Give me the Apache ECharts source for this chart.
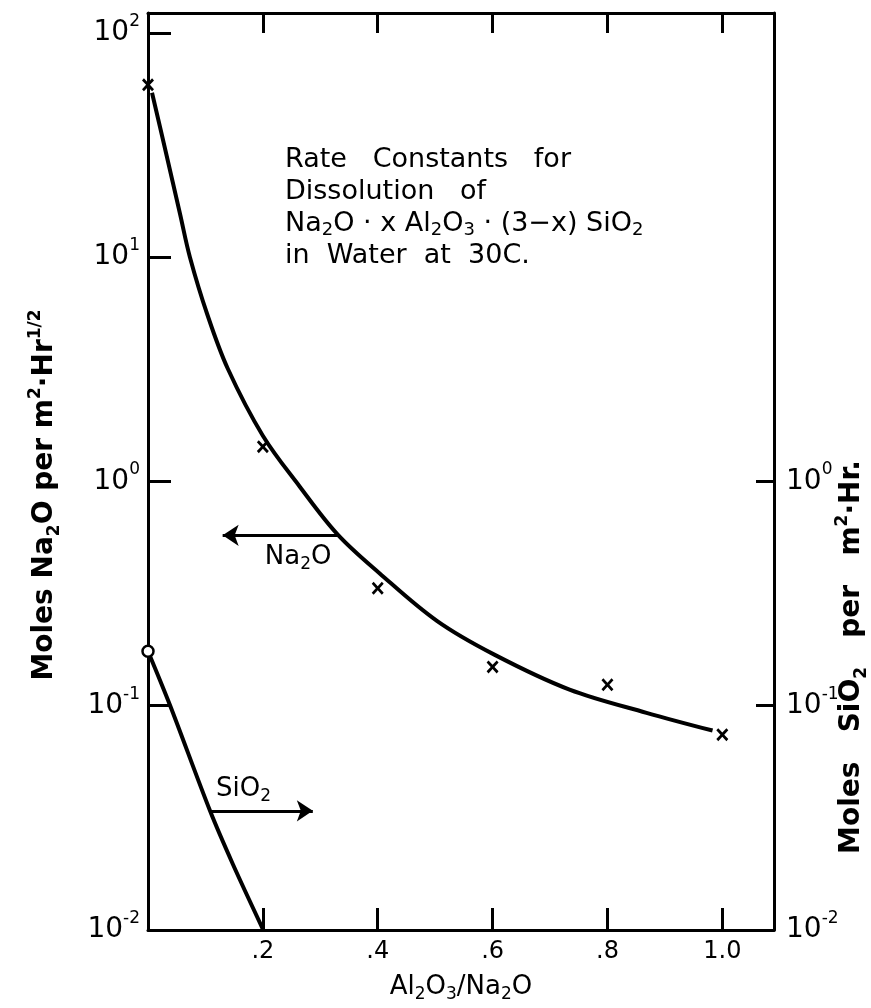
<!DOCTYPE html>
<html>
<head>
<meta charset="utf-8">
<script src="https://cdn.jsdelivr.net/npm/echarts@6/dist/echarts.min.js"></script>
<style>
  html, body { margin: 0; padding: 0; background: #fff; }
  #chart { width: 871px; height: 1008px; }
</style>
</head>
<body>
<div id="chart"></div>
<script>
// Na2O rate constants (x markers) and the hand drawn curve through them
const naPointsX = [0, 0.2, 0.4, 0.6, 0.8, 1.0];
const naPointsY = [58.7, 1.43, 0.334, 0.149, 0.124, 0.0743];
const naCurveX = [0.007, 0.030, 0.056, 0.073, 0.103, 0.139, 0.2, 0.264, 0.33, 0.403, 0.503, 0.603, 0.734, 0.868, 0.983];
const naCurveY = [54.1, 30.2, 15.5, 10.0, 5.58, 3.18, 1.6, 0.95, 0.581, 0.39, 0.239, 0.169, 0.118, 0.093, 0.0775];
// SiO2 (right axis)
const sioPointX = [0];
const sioPointY = [0.175];
const sioCurveX = [0, 0.038, 0.108, 0.148, 0.2];
const sioCurveY = [0.175, 0.101, 0.034, 0.0196, 0.0101];
// arrows pointing at the axis each curve belongs to
const naArrow = [[0.13, 0.575], [0.33, 0.575]];
const sioArrow = [[0.108, 0.034], [0.287, 0.034]];
// ticks
const xTicks = [0.2, 0.4, 0.6, 0.8, 1.0];
const xTickLabels = ['.2', '.4', '.6', '.8', '1.0'];
const leftTicks = [0.01, 0.1, 1, 10, 100];
const rightTicks = [0.01, 0.1, 1];

const FONT = 'DejaVu Sans';
const INK = '#000';

const zip = (xs, ys) => xs.map((x, i) => [x, ys[i]]);

// 10 with exponent as superscript
const powLabel = v => {
  const e = Math.round(Math.log10(v));
  return '{b|10}{sup|' + (e < 0 ? '-' + (-e) : e) + '}';
};
const powRich = {
  b: { fontFamily: FONT, fontSize: 28, lineHeight: 40, color: INK },
  sup: { fontFamily: FONT, fontSize: 17, lineHeight: 17, verticalAlign: 'top', color: INK }
};
const subRich = size => ({
  t: { fontFamily: FONT, fontSize: size, lineHeight: 32, color: INK },
  s: { fontFamily: FONT, fontSize: Math.round(size * 0.65), lineHeight: 20, verticalAlign: 'bottom', color: INK }
});
const titleRich = {
  b: { fontFamily: FONT, fontSize: 28, fontWeight: 'bold', lineHeight: 36, color: INK },
  bs: { fontFamily: FONT, fontSize: 17, fontWeight: 'bold', lineHeight: 22, verticalAlign: 'bottom', color: INK },
  bp: { fontFamily: FONT, fontSize: 17, fontWeight: 'bold', lineHeight: 17, verticalAlign: 'top', color: INK }
};

const axisLine = { show: true, onZero: false, lineStyle: { color: INK, width: 3 } };

const chart = echarts.init(document.getElementById('chart'));
chart.clear();

const optionData = {
  animation: false,
  backgroundColor: '#fff',
  textStyle: { fontFamily: FONT, color: INK },
  grid: { left: 148, right: 97, top: 13, bottom: 75, containLabel: false },
  xAxis: [{
    type: 'value',
    position: 'bottom',
    min: 0,
    max: 1.09,
    axisLine: axisLine,
    axisTick: { show: true, inside: true, length: 22, customValues: xTicks, lineStyle: { color: INK, width: 3 } },
    axisLabel: {
      customValues: xTicks, margin: 10, fontSize: 24, color: INK, fontFamily: FONT,
      formatter: v => xTickLabels[xTicks.indexOf(v)] || ''
    },
    splitLine: { show: false },
    name: '{t|Al}{s|2}{t|O}{s|3}{t|/Na}{s|2}{t|O}',
    nameLocation: 'middle',
    nameGap: 41,
    nameTextStyle: { fontSize: 26, rich: subRich(26) }
  }, {
    type: 'value',
    position: 'top',
    min: 0,
    max: 1.09,
    axisLine: axisLine,
    axisTick: { show: true, inside: true, length: 20, customValues: xTicks, lineStyle: { color: INK, width: 3 } },
    axisLabel: { show: false },
    splitLine: { show: false }
  }],
  yAxis: [{
    type: 'log',
    logBase: 10,
    position: 'left',
    min: 0.01,
    max: 122.7,
    axisLine: axisLine,
    axisTick: { show: true, inside: true, length: 23, customValues: leftTicks, lineStyle: { color: INK, width: 3 } },
    axisLabel: { customValues: leftTicks, margin: 8, formatter: powLabel, rich: powRich },
    minorTick: { show: false },
    splitLine: { show: false }
  }, {
    type: 'log',
    logBase: 10,
    position: 'right',
    min: 0.01,
    max: 122.7,
    axisLine: axisLine,
    axisTick: { show: true, inside: true, length: 18, customValues: rightTicks, lineStyle: { color: INK, width: 3 } },
    axisLabel: { customValues: rightTicks, margin: 12, formatter: powLabel, rich: powRich },
    minorTick: { show: false },
    splitLine: { show: false }
  }],
  graphic: [{
    type: 'text',
    left: 285,
    top: 146,
    style: {
      text: '{t|Rate   Constants   for}\n{t|Dissolution   of}\n' +
        '{t|Na}{s|2}{t|O · x Al}{s|2}{t|O}{s|3}{t| · (3\u2212x) SiO}{s|2}\n' +
        '{t|in  Water  at  30C.}',
      rich: subRich(27)
    }
  }, {
    type: 'text',
    x: 45,
    y: 495,
    rotation: Math.PI / 2,
    style: {
      text: '{b|Moles Na}{bs|2}{b|O per m}{bp|2}{b|·Hr}{bp|1/2}',
      align: 'center',
      verticalAlign: 'middle',
      rich: titleRich
    }
  }, {
    type: 'text',
    x: 852,
    y: 657,
    rotation: Math.PI / 2,
    style: {
      text: '{b|Moles   SiO}{bs|2}{b|   per   m}{bp|2}{b|·Hr.}',
      align: 'center',
      verticalAlign: 'middle',
      rich: titleRich
    }
  }],
  series: [{
    name: 'Na2O curve',
    type: 'line',
    xAxisIndex: 0,
    yAxisIndex: 0,
    data: zip(naCurveX, naCurveY),
    smooth: 0.35,
    showSymbol: false,
    lineStyle: { color: INK, width: 4 },
    silent: true,
    markLine: {
      silent: true,
      symbolSize: 16,
      lineStyle: { color: INK, width: 3, type: 'solid' },
      label: {
        show: true,
        position: 'insideEndBottom',
        distance: 6,
        formatter: '{t|Na}{s|2}{t|O}',
        rich: subRich(26)
      },
      data: [[
        { coord: naArrow[0], symbol: 'arrow' },
        { coord: naArrow[1], symbol: 'none' }
      ]]
    }
  }, {
    name: 'Na2O',
    type: 'scatter',
    xAxisIndex: 0,
    yAxisIndex: 0,
    data: zip(naPointsX, naPointsY),
    symbol: 'path://M0,1.6L1.6,0L5,3.4L8.4,0L10,1.6L6.6,5L10,8.4L8.4,10L5,6.6L1.6,10L0,8.4L3.4,5Z',
    symbolSize: [12, 13],
    itemStyle: { color: INK, opacity: 1 },
    z: 5
  }, {
    name: 'SiO2 curve',
    type: 'line',
    xAxisIndex: 0,
    yAxisIndex: 1,
    data: zip(sioCurveX, sioCurveY),
    smooth: 0.3,
    showSymbol: false,
    lineStyle: { color: INK, width: 4 },
    silent: true,
    markLine: {
      silent: true,
      symbolSize: 16,
      lineStyle: { color: INK, width: 3, type: 'solid' },
      label: {
        show: true,
        position: 'insideStartTop',
        distance: 6,
        formatter: '{t|SiO}{s|2}',
        rich: subRich(26)
      },
      data: [[
        { coord: sioArrow[0], symbol: 'none' },
        { coord: sioArrow[1], symbol: 'arrow' }
      ]]
    }
  }, {
    name: 'SiO2',
    type: 'scatter',
    xAxisIndex: 0,
    yAxisIndex: 1,
    data: zip(sioPointX, sioPointY),
    symbol: 'circle',
    symbolSize: 11,
    itemStyle: { color: '#fff', borderColor: INK, borderWidth: 2.5, opacity: 1 },
    z: 6
  }]
};

chart.setOption(optionData);
</script>
</body>
</html>
